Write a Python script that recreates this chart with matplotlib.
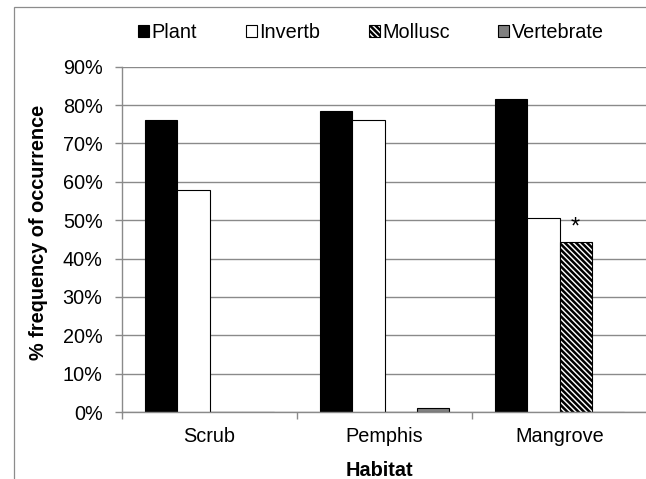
import matplotlib
matplotlib.use("Agg")
import matplotlib.pyplot as plt
from matplotlib.patches import Patch, Rectangle
import numpy as np

plt.rcParams['font.family'] = ['Liberation Sans', 'DejaVu Sans']
plt.rcParams['hatch.linewidth'] = 1.8

habitats = ["Scrub", "Pemphis", "Mangrove"]
series = ["Plant", "Invertb", "Mollusc", "Vertebrate"]
plant = [76.1, 78.4, 81.6]
invertb = [57.8, 76.0, 50.6]
mollusc = [0.0, 0.0, 44.2]
vertebrate = [0.0, 1.0, 0.0]
yticks = [0, 10, 20, 30, 40, 50, 60, 70, 80, 90]

values = [plant, invertb, mollusc, vertebrate]
faces = ["black", "white", "white", "#808080"]
hatches = [None, None, "\\\\\\\\\\\\", None]

FS = 14.3
W, H = 646, 479
fig = plt.figure(figsize=(W / 100, H / 100), dpi=100)
ax = fig.add_axes([122 / W, 1 - 412 / H, (647 - 122) / W, (412 - 66.7) / H])

# outer chart border
fig.patches.append(Rectangle((14 / W, -0.1), 2.0, (1 - 7 / H) + 0.1, transform=fig.transFigure,
                             fill=False, edgecolor="#8c8c8c", linewidth=0.9, zorder=0))

x = np.arange(len(habitats))
bw = 0.183
for j, (vals, fc, h) in enumerate(zip(values, faces, hatches)):
    ax.bar(x + (j - 1.5) * bw, vals, width=bw, color=fc, edgecolor="black",
           linewidth=0.8, hatch=h, zorder=2)

# asterisk above Mangrove mollusc
ax.text(x[2] + 0.5 * bw, mollusc[2] + 0.9, "*", ha="center", va="bottom",
        fontsize=17, color="black")

ax.set_xlim(-0.5, 2.5)
ax.set_ylim(0, 90)
ax.set_yticks(yticks)
ax.set_yticklabels([f"{v}%" for v in yticks])
ax.yaxis.grid(True, color="#8a8a8a", linewidth=1.0)
ax.set_axisbelow(True)

ax.set_xticks([-0.5, 0.5, 1.5, 2.5])
ax.set_xticklabels([])
ax.set_xticks(x, minor=True)
ax.set_xticklabels(habitats, minor=True)
ax.tick_params(axis="x", which="major", direction="out", length=5, width=1, color="#8a8a8a")
ax.tick_params(axis="x", which="minor", length=0, pad=11, labelsize=FS)
ax.tick_params(axis="y", direction="out", length=5, width=1, color="#8a8a8a", pad=9, labelsize=FS)

for s in ["top", "right"]:
    ax.spines[s].set_visible(False)
for s in ["left", "bottom"]:
    ax.spines[s].set_color("#8a8a8a")
    ax.spines[s].set_linewidth(1.0)

fig.text(39 / W, 1 - 232 / H, "% frequency of occurrence", rotation=90, ha="center", va="center",
         fontsize=FS, fontweight="bold")
fig.text(379 / W, 1 - 470 / H, "Habitat", ha="center", va="center", fontsize=FS, fontweight="bold")

handles = [Patch(facecolor=fc, edgecolor="black", hatch=h, linewidth=0.8)
           for fc, h in zip(faces, hatches)]
fig.legend(handles, series, loc="center", bbox_to_anchor=(371 / W, 1 - 33 / H), ncol=4,
           frameon=False, fontsize=FS, handlelength=0.55, handleheight=0.55,
           handletextpad=0.12, columnspacing=2.45)

fig.savefig("out.png", dpi=100)
